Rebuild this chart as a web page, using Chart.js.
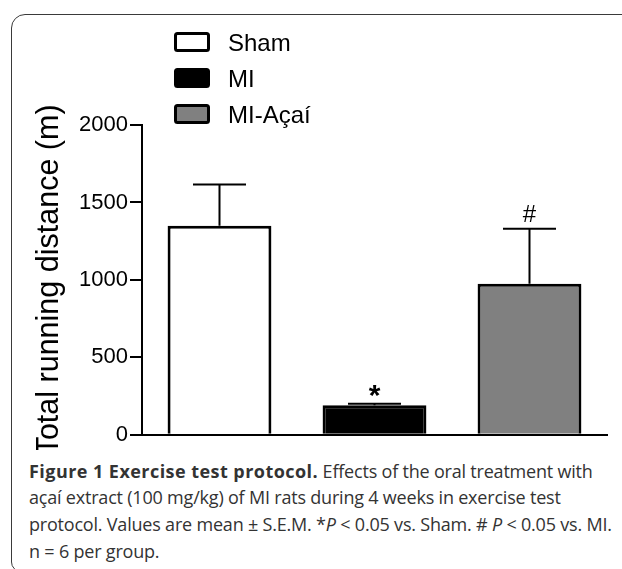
<!DOCTYPE html>
<html>
<head>
<meta charset="utf-8">
<script src="https://cdn.jsdelivr.net/npm/chart.js@4.4.1/dist/chart.umd.min.js"></script>
<style>
body{margin:0;background:#fff;width:622px;height:569px;overflow:hidden;position:relative;}
#frame{position:absolute;left:11px;top:14px;width:700px;height:556px;border:1.5px solid #3a3a3a;border-top-left-radius:14px;border-bottom-left-radius:10px;}
#chart{position:absolute;left:0;top:0;}
#caption{position:absolute;left:29px;top:457.7px;font-family:"Open Sans",sans-serif;font-size:18px;line-height:26.7px;color:#333;white-space:nowrap;letter-spacing:-0.2px;}
#caption b{font-weight:700;letter-spacing:0.45px;}
</style>
</head>
<body>
<div id="frame"></div>
<canvas id="chart" width="622" height="450"></canvas>
<div id="caption"><b>Figure 1 Exercise test protocol.</b> Effects of the oral treatment with<br>açaí extract (100 mg/kg) of MI rats during 4 weeks in exercise test<br>protocol. Values are mean ± S.E.M. *<i>P</i> &lt; 0.05 vs. Sham. # <i>P</i> &lt; 0.05 vs. MI.<br>n = 6 per group.</div>
<script>
// DATA
const groups = ['Sham', 'MI', 'MI-Açaí'];
const meanDistance = [1350, 190, 975];
const semDistance = [266, 10, 356];
const marks = ['', '*', '#'];
const yTicks = [0, 500, 1000, 1500, 2000];

const barColors = ['#ffffff', '#000000', '#808080'];
const axisFont = '"Liberation Sans", Arial, sans-serif';

// ERROR BARS + SIGNIFICANCE MARKS
const errorBars = {
    id: 'errorBars',
    afterDatasetsDraw(chart){
        const ctx = chart.ctx;
        const y = chart.scales.y;
        const meta = chart.getDatasetMeta(0);
        ctx.save();
        ctx.strokeStyle = '#000';
        ctx.lineWidth = 2;
        meta.data.forEach((bar, i) => {
            let base = y.getPixelForValue(meanDistance[i]);
            let top = y.getPixelForValue(meanDistance[i] + semDistance[i]);
            ctx.beginPath();
            ctx.moveTo(bar.x, base);
            ctx.lineTo(bar.x, top);
            ctx.moveTo(bar.x - 26.5, top);
            ctx.lineTo(bar.x + 26.5, top);
            ctx.stroke();
            if(marks[i]){
                let star = marks[i] == '*';
                ctx.fillStyle = '#000';
                ctx.font = (star ? 'bold 30px ' : '24px ') + axisFont;
                ctx.textAlign = 'center';
                ctx.textBaseline = 'alphabetic';
                ctx.fillText(marks[i], bar.x, top + (star ? 1 : -7));
            }
        });
        ctx.restore();
    }
};

// LEGEND (stacked, top left)
const boxLegend = {
    id: 'boxLegend',
    afterDraw(chart){
        const ctx = chart.ctx;
        const colors = chart.data.datasets[0].backgroundColor;
        ctx.save();
        chart.data.labels.forEach((label, i) => {
            let cy = 42 + i * 36;
            ctx.beginPath();
            ctx.roundRect(175.5, cy - 8.5, 33, 17, 2);
            ctx.fillStyle = colors[i];
            ctx.fill();
            ctx.lineWidth = 3;
            ctx.strokeStyle = '#000';
            ctx.stroke();
            ctx.fillStyle = '#000';
            ctx.font = '24px ' + axisFont;
            ctx.textAlign = 'left';
            ctx.textBaseline = 'alphabetic';
            ctx.fillText(label, 228, cy + 8.5);
        });
        ctx.restore();
    }
};

const ctx = document.getElementById('chart').getContext('2d');
const chart = new Chart(ctx, {
    type: 'bar',
    data: {
        labels: groups,
        datasets: [{
            data: meanDistance,
            backgroundColor: barColors,
            borderColor: '#000',
            borderWidth: 3,
            barPercentage: 0.67,
            categoryPercentage: 1
        }]
    },
    options: {
        responsive: false,
        animation: false,
        layout: {
            padding: {left: 31, top: 125, right: 15, bottom: 14}
        },
        plugins: {
            legend: {display: false},
            tooltip: {enabled: false}
        },
        scales: {
            x: {
                ticks: {display: false},
                grid: {display: false},
                border: {display: true, color: '#000', width: 2},
                afterFit(scale){ scale.height = 0; }
            },
            y: {
                min: 0,
                max: 2000,
                afterBuildTicks(scale){ scale.ticks = yTicks.map(v => ({value: v})); },
                afterFit(scale){ scale.width = 111; },
                ticks: {
                    color: '#000',
                    padding: 2,
                    font: {family: axisFont, size: 22},
                    callback: (value) => String(value)
                },
                grid: {
                    drawOnChartArea: false,
                    color: '#000',
                    lineWidth: 2,
                    tickLength: 12
                },
                border: {display: true, color: '#000', width: 2},
                title: {
                    display: true,
                    text: 'Total running distance (m)',
                    color: '#000',
                    padding: {top: 0, bottom: 0},
                    font: {family: axisFont, size: 30.5}
                }
            }
        }
    },
    plugins: [errorBars, boxLegend]
});
</script>
</body>
</html>
